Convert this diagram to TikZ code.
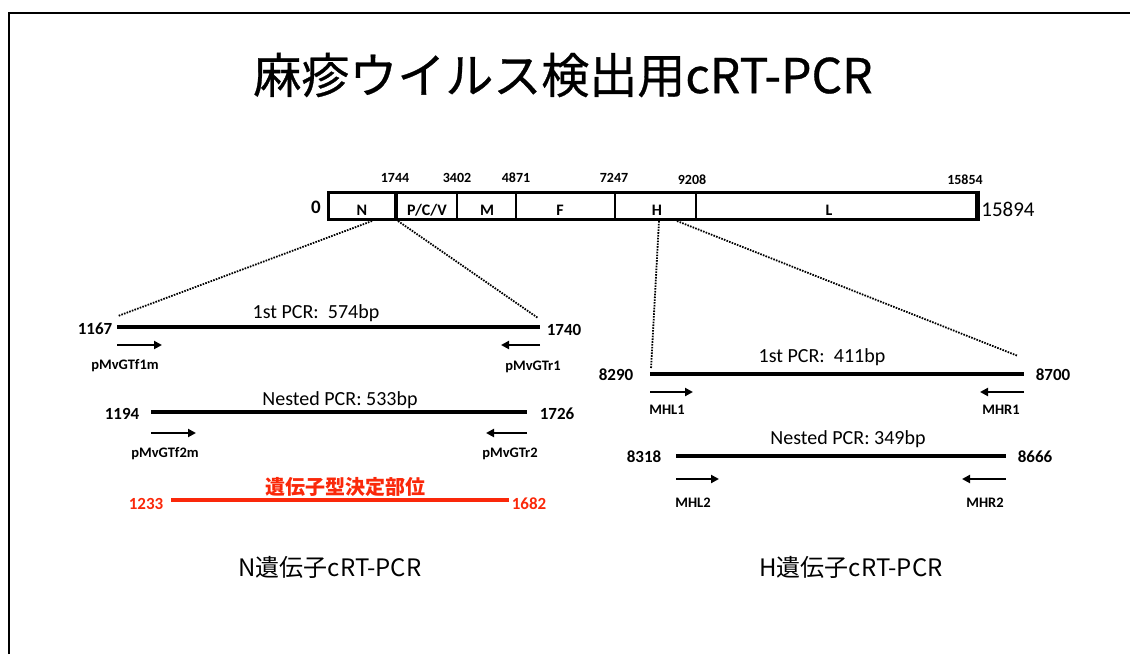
\documentclass[tikz,border=0pt]{standalone}
\usepackage{fontspec}
\setmainfont{Carlito}
\newfontfamily\jp{Noto Sans CJK JP}
\newfontfamily\jptitle{Noto Sans CJK JP}[FakeBold=0.6]
\usetikzlibrary{arrows.meta}
\definecolor{gred}{RGB}{250,40,10}
\tikzset{
  num/.style={font=\fontsize{17}{19}\selectfont\bfseries, inner sep=0pt},
  gpos/.style={font=\fontsize{14}{16}\selectfont\bfseries, inner sep=0pt},
  seg/.style={font=\fontsize{16}{18}\selectfont\bfseries, inner sep=0pt},
  pcr/.style={font=\fontsize{20}{22}\selectfont, inner sep=0pt},
  primer/.style={font=\fontsize{14.5}{16}\selectfont\bfseries, inner sep=0pt},
  amp/.style={line width=4pt},
  prm/.style={line width=2pt, -{Triangle[length=8pt,width=8pt]}},
  zoomline/.style={line width=1.8pt, dash pattern=on 1.6pt off 1.2pt},
  caption/.style={font=\jp\fontsize{24}{28}\selectfont, inner sep=0pt}
}
\begin{document}
\begin{tikzpicture}[x=1pt,y=-1pt]
\useasboundingbox (0,0) rectangle (1130,654);
\draw[line width=1.5pt] (9,654) -- (9,13) -- (1130,13);
% title
\node[font=\jptitle\fontsize{48}{54}\selectfont, inner sep=0pt] (title) at (563,75) {麻疹ウイルス検出用cRT-PCR};
% genome bar
\draw[line width=3pt] (328,192) rectangle (977,219);
\draw[line width=4pt] (396,192) -- (396,219);
\draw[line width=2.5pt] (457,192) -- (457,219);
\draw[line width=2.5pt] (516,192) -- (516,219);
\draw[line width=2.5pt] (615,192) -- (615,219);
\draw[line width=2.5pt] (696,192) -- (696,219);
\draw[line width=5pt] (977,190.5) -- (977,220.5);
\node[seg] (sN) at (362,210) {N};
\node[seg] (sP) at (427,210) {P/C/V};
\node[seg] (sM) at (487,210) {M};
\node[seg] (sF) at (560,210) {F};
\node[seg] (sH) at (657,210) {H};
\node[seg] (sL) at (829,210) {L};
\node[gpos] (p1744) at (395,178) {1744};
\node[gpos] (p3402) at (457,178) {3402};
\node[gpos] (p4871) at (516,178) {4871};
\node[gpos] (p7247) at (614,178) {7247};
\node[gpos] (p9208) at (692,180) {9208};
\node[gpos] (p15854) at (965,180) {15854};
\node[font=\fontsize{19}{21}\selectfont\bfseries, inner sep=0pt] (z0) at (316,207) {0};
\node[font=\fontsize{21}{23}\selectfont, inner sep=0pt] (zend) at (1008,209) {15894};
% zoom connectors
\coordinate (nA) at (372,221);
\coordinate (nB) at (398,221);
\coordinate (hA) at (659,221);
\coordinate (hB) at (677,221);
\coordinate (nA2) at (118,316);
\coordinate (nB2) at (538,318);
\coordinate (hA2) at (651,369);
\coordinate (hB2) at (1018,356);
\draw[zoomline] (nA) -- (nA2);
\draw[zoomline] (nB) -- (nB2);
\draw[zoomline] (hA) -- (hA2);
\draw[zoomline] (hB) -- (hB2);
% N gene: 1st PCR
\coordinate (n1a) at (117,327);
\coordinate (n1b) at (540,327);
\draw[amp] (n1a) -- (n1b);
\node[num] (n1167) at (95,329) {1167};
\node[num] (n1740) at (564,330) {1740};
\node[pcr] (n1t) at (316,313) {1st PCR:\ \ 574bp};
\coordinate (f1a) at (117,345); \coordinate (f1b) at (162,345);
\coordinate (r1a) at (540,345); \coordinate (r1b) at (501,345);
\draw[prm] (f1a) -- (f1b);
\draw[prm] (r1a) -- (r1b);
\node[primer] (pf1) at (125,366) {pMvGTf1m};
\node[primer] (pr1) at (533,367) {pMvGTr1};
% N gene: nested
\coordinate (n2a) at (151,412);
\coordinate (n2b) at (527,412);
\draw[amp] (n2a) -- (n2b);
\node[num] (n1194) at (122,414) {1194};
\node[num] (n1726) at (557,414) {1726};
\node[pcr] (n2t) at (340,400) {Nested PCR: 533bp};
\coordinate (f2a) at (151,433); \coordinate (f2b) at (196,433);
\coordinate (r2a) at (527,433); \coordinate (r2b) at (486,433);
\draw[prm] (f2a) -- (f2b);
\draw[prm] (r2a) -- (r2b);
\node[primer] (pf2) at (165,454) {pMvGTf2m};
\node[primer] (pr2) at (510,454) {pMvGTr2};
% genotyping region
\coordinate (g1) at (171,500);
\coordinate (g2) at (509,500);
\draw[amp, gred] (g1) -- (g2);
\node[num, gred] (n1233) at (146,504) {1233};
\node[num, gred] (n1682) at (529,504) {1682};
\node[font=\jp\fontsize{20}{22}\selectfont\bfseries, text=gred, inner sep=0pt] (gt) at (345,487) {遺伝子型決定部位};
\node[caption] (capN) at (330,567) {N遺伝子cRT-PCR};
% H gene: 1st PCR
\coordinate (h1a) at (650,374);
\coordinate (h1b) at (1024,374);
\draw[amp] (h1a) -- (h1b);
\node[num] (h8290) at (616,375) {8290};
\node[num] (h8700) at (1053,375) {8700};
\node[pcr] (h1t) at (822,357) {1st PCR:\ \ 411bp};
\coordinate (hf1a) at (650,392); \coordinate (hf1b) at (693,392);
\coordinate (hr1a) at (1024,392); \coordinate (hr1b) at (980,392);
\draw[prm] (hf1a) -- (hf1b);
\draw[prm] (hr1a) -- (hr1b);
\node[primer] (ph1) at (667,410) {MHL1};
\node[primer] (phr1) at (1001,410) {MHR1};
% H gene: nested
\coordinate (h2a) at (676,456);
\coordinate (h2b) at (1006,456);
\draw[amp] (h2a) -- (h2b);
\node[num] (h8318) at (644,457) {8318};
\node[num] (h8666) at (1035,457) {8666};
\node[pcr] (h2t) at (848,439) {Nested PCR: 349bp};
\coordinate (hf2a) at (676,479); \coordinate (hf2b) at (719,479);
\coordinate (hr2a) at (1006,479); \coordinate (hr2b) at (962,479);
\draw[prm] (hf2a) -- (hf2b);
\draw[prm] (hr2a) -- (hr2b);
\node[primer] (ph2) at (693,503) {MHL2};
\node[primer] (phr2) at (985,503) {MHR2};
\node[caption] (capH) at (851,567) {H遺伝子cRT-PCR};
\end{tikzpicture}
\end{document}
